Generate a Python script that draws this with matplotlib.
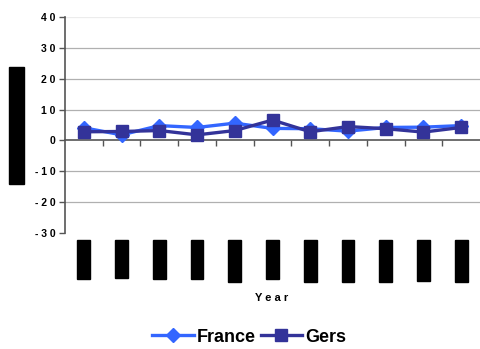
import matplotlib
matplotlib.use("Agg")
import matplotlib.pyplot as plt
from matplotlib.patches import Rectangle
import matplotlib.transforms as mtransforms
import numpy as np

plt.rcParams['font.family'] = ['Liberation Sans', 'DejaVu Sans']

# Yearly values (11 periods)
periods = list(range(11))
france = [4.1, 1.8, 4.8, 4.2, 5.6, 3.9, 3.8, 3.0, 4.2, 4.3, 4.8]
gers = [2.8, 2.9, 3.2, 1.8, 3.2, 6.6, 2.8, 4.5, 3.8, 2.7, 4.2]
y_ticks = [-30, -20, -10, 0, 10, 20, 30, 40]
y_labels = ["- 3 0", "- 2 0", "- 1 0", "0", "1 0", "2 0", "3 0", "4 0"]

fig = plt.figure(figsize=(4.8, 3.49), dpi=100)
ax = fig.add_axes([65 / 480, 1 - 233 / 349, 415 / 480, 216 / 349])

for v in [10, 20, 30, -10, -20]:
    ax.axhline(v, color="#b0b0b0", lw=0.9, zorder=0)
ax.axhline(40, color="#ececec", lw=0.9, zorder=0)

ax.plot(periods, france, color="#3366ff", lw=2.4, marker="D", ms=7,
        mfc="#3366ff", mec="#3366ff", label="France", zorder=3)
ax.plot(periods, gers, color="#333399", lw=2.4, marker="s", ms=8,
        mfc="#333399", mec="#333399", label="Gers", zorder=4)

ax.set_xlim(-0.5, 10.5)
ax.set_ylim(-30, 40)
ax.set_yticks(y_ticks)
ax.set_yticklabels(y_labels, fontsize=7.5, fontweight="bold")
ax.tick_params(axis="y", length=4, color="#555555", width=1, pad=3)

ax.spines["left"].set_color("#555555")
ax.spines["left"].set_linewidth(1.2)
ax.spines["bottom"].set_position(("data", 0))
ax.spines["bottom"].set_color("#555555")
ax.spines["bottom"].set_linewidth(1.2)
ax.spines["top"].set_visible(False)
ax.spines["right"].set_visible(False)
ax.set_xticks(np.arange(0.5, 10.5, 1))
ax.set_xticklabels([])
ax.tick_params(axis="x", length=4, color="#555555", width=1, direction="out")

# Masked category labels below the plot
trans = mtransforms.blended_transform_factory(ax.transData, fig.transFigure)
box_bottoms = [279, 278, 279, 279, 282, 279, 282, 282, 282, 281, 282]
for p, b in zip(periods, box_bottoms):
    ax.add_patch(Rectangle((p - 0.17, 1 - b / 349), 0.34, (b - 240) / 349,
                           transform=trans, color="black", clip_on=False))
# Masked y-axis title
fig.add_artist(Rectangle((9 / 480, 1 - 184 / 349), 15 / 480, 117 / 349,
                         transform=fig.transFigure, color="black"))

fig.text(272 / 480, 1 - 298 / 349, "Y e a r", ha="center", va="center",
         fontsize=8, fontweight="bold")

leg = fig.legend(loc="center", bbox_to_anchor=(249 / 480, 1 - 337 / 349),
                 ncol=2, frameon=False, handlelength=2.3,
                 handletextpad=0.15, columnspacing=0.3,
                 prop={"weight": "bold", "size": 13})

fig.savefig("out.png", dpi=100, facecolor="white")
